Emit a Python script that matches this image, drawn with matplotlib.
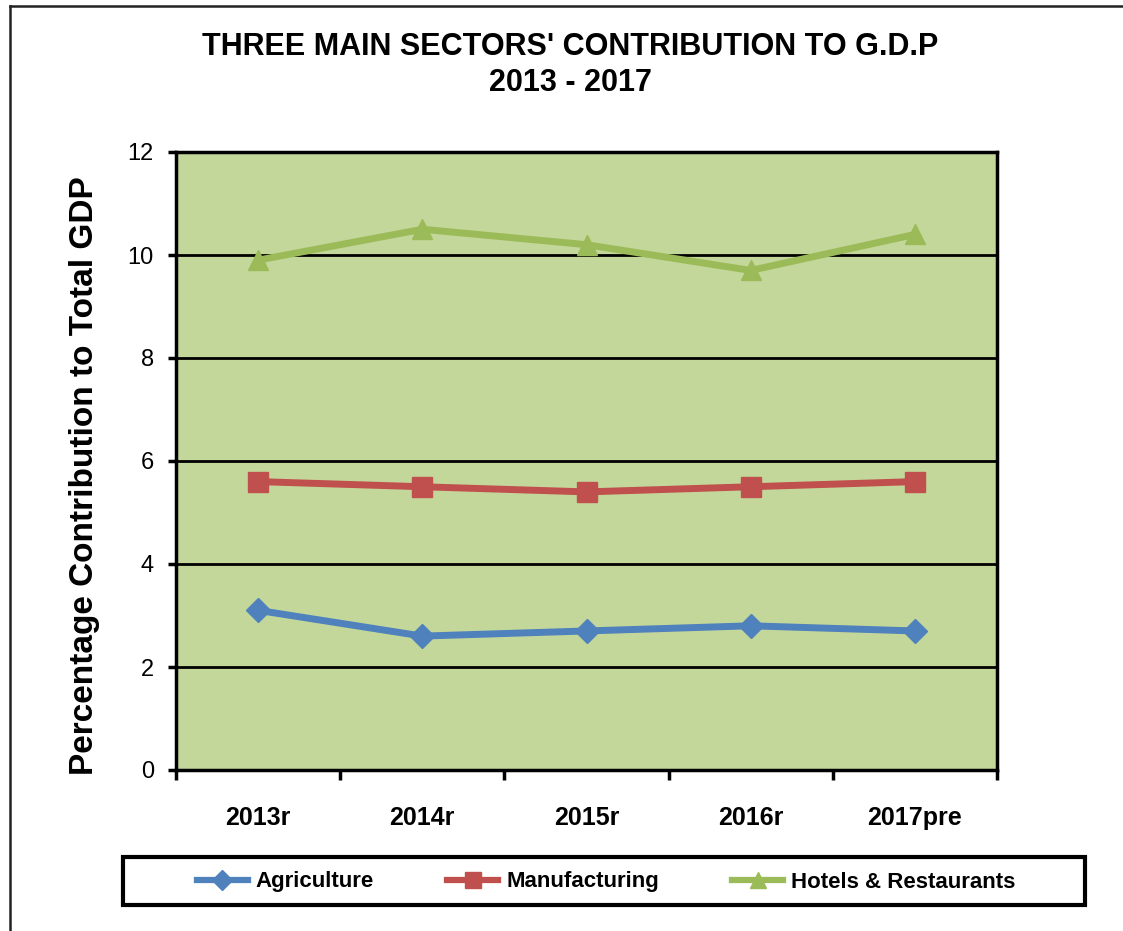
import matplotlib.pyplot as plt
from matplotlib.lines import Line2D
from matplotlib.patches import Rectangle

years = ['2013r', '2014r', '2015r', '2016r', '2017pre']
agriculture = [3.1, 2.6, 2.7, 2.8, 2.7]
manufacturing = [5.6, 5.5, 5.4, 5.5, 5.6]
hotels = [9.9, 10.5, 10.2, 9.7, 10.4]

plt.rcParams['font.family'] = ['Liberation Sans', 'DejaVu Sans']

W, H = 1123, 931
fig = plt.figure(figsize=(W / 100, H / 100), dpi=100)
ax = fig.add_axes([176 / W, 1 - 770 / H, (997 - 176) / W, (770 - 152) / H])
ax.set_facecolor('#C4D79B')

x = list(range(len(years)))
ax.plot(x, agriculture, color='#4F81BD', lw=5, marker='D', ms=12, label='Agriculture', zorder=3)
ax.plot(x, manufacturing, color='#C0504D', lw=5, marker='s', ms=14, label='Manufacturing', zorder=3)
ax.plot(x, hotels, color='#9BBB59', lw=5, marker='^', ms=15, label='Hotels & Restaurants', zorder=3)

ax.set_xlim(-0.5, len(years) - 0.5)
ax.set_ylim(0, 12)
ax.set_yticks(range(0, 13, 2))
ax.yaxis.grid(True, color='black', lw=2)
ax.set_axisbelow(True)

ax.set_xticks(x)
ax.set_xticklabels(years, fontsize=18, fontweight='bold')
ax.set_xticks([i - 0.5 for i in range(len(years) + 1)], minor=True)
ax.tick_params(axis='x', which='major', length=0, pad=26)
ax.tick_params(axis='x', which='minor', length=7, width=2.5, direction='out')
ax.tick_params(axis='y', length=6, width=2.5, labelsize=17, pad=10)

for s in ax.spines.values():
    s.set_linewidth(2.5)

ax.set_ylabel('Percentage Contribution to Total GDP', fontsize=24, fontweight='bold')
ax.yaxis.set_label_coords(-0.093, 0.476)
fig.text(0.508, 1 - 65 / H, "THREE MAIN SECTORS' CONTRIBUTION TO G.D.P\n2013 - 2017",
         ha='center', va='center', fontsize=22, fontweight='bold', linespacing=1.3)

# legend box
fig.add_artist(Rectangle((123 / W, 1 - 905 / H), (1085 - 123) / W, 48 / H, transform=fig.transFigure,
                         fill=False, edgecolor='black', lw=3))
handles = [Line2D([], [], color='#4F81BD', lw=4.5, marker='D', ms=10),
           Line2D([], [], color='#C0504D', lw=4.5, marker='s', ms=11),
           Line2D([], [], color='#9BBB59', lw=4.5, marker='^', ms=12)]
fig.legend(handles, ['Agriculture', 'Manufacturing', 'Hotels & Restaurants'],
           loc='center', bbox_to_anchor=(606 / W, 1 - 882 / H), ncol=3, frameon=False,
           prop={'weight': 'bold', 'size': 16}, handlelength=2.3, handletextpad=0.35,
           columnspacing=3.3)

# outer chart border (left and top only, rest is cropped)
fig.add_artist(Line2D([9.5 / W, 9.5 / W], [0, 1 - 5.5 / H], color='#222222', lw=1.8))
fig.add_artist(Line2D([9.5 / W, 1], [1 - 5.5 / H, 1 - 5.5 / H], color='#222222', lw=1.8))

fig.savefig('out.png', dpi=100)
